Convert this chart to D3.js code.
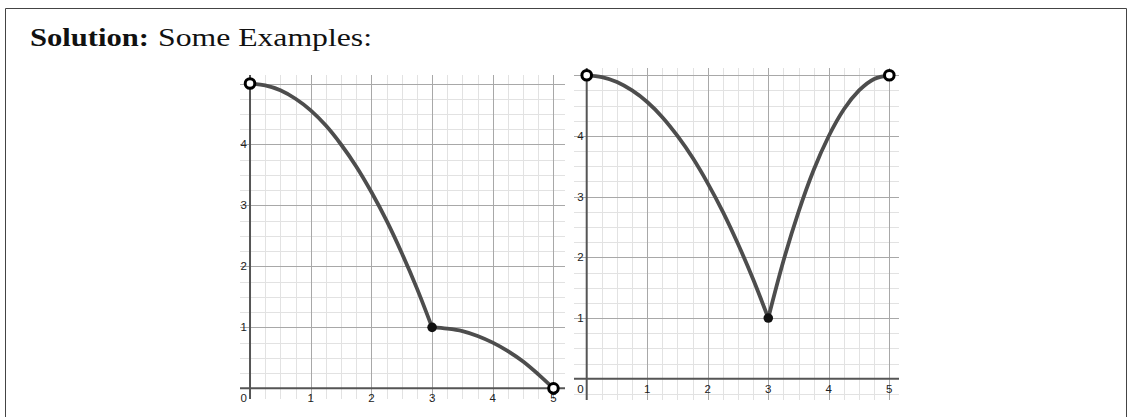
<!DOCTYPE html>
<html>
<head>
<meta charset="utf-8">
<script src="https://cdn.jsdelivr.net/npm/d3@7"></script>
<style>
  html, body { margin: 0; padding: 0; background: #fff; }
  svg { display: block; }
</style>
</head>
<body>
<svg id="page" width="1132" height="417"></svg>
<script>
// ---- data ----------------------------------------------------------
const xTicks = [1, 2, 3, 4, 5];
const yTicks = [1, 2, 3, 4];

// Example 1: falls from (0,5) to (3,1), then eases down to (5,0)
const ex1PieceA_x = [0, 0.25, 0.5, 0.75, 1, 1.25, 1.5, 1.75, 2, 2.25, 2.5, 2.75, 3];
const ex1PieceA_y = [5, 4.97, 4.89, 4.75, 4.56, 4.31, 4.0, 3.64, 3.22, 2.75, 2.22, 1.64, 1];
const ex1PieceB_x = [3, 3.25, 3.5, 3.75, 4, 4.25, 4.5, 4.75, 5];
const ex1PieceB_y = [1, 0.98, 0.94, 0.86, 0.75, 0.61, 0.44, 0.23, 0];
const ex1Open   = [[0, 5], [5, 0]];
const ex1Closed = [[3, 1]];

// Example 2: falls from (0,5) to (3,1), then rises back to (5,5)
const ex2PieceA_x = [0, 0.25, 0.5, 0.75, 1, 1.25, 1.5, 1.75, 2, 2.25, 2.5, 2.75, 3];
const ex2PieceA_y = [5, 4.97, 4.89, 4.75, 4.56, 4.31, 4.0, 3.64, 3.22, 2.75, 2.22, 1.64, 1];
const ex2PieceB_x = [3, 3.25, 3.5, 3.75, 4, 4.25, 4.5, 4.75, 5];
const ex2PieceB_y = [1, 1.94, 2.75, 3.44, 4, 4.44, 4.75, 4.94, 5];
const ex2Open   = [[0, 5], [5, 5]];
const ex2Closed = [[3, 1]];

// ---- page frame and heading ----------------------------------------
const svg = d3.select("#page");

svg.append("path")
  .attr("d", "M5.5,417 V8.5 H1126.5 V417")
  .attr("fill", "none")
  .attr("stroke", "#444")
  .attr("stroke-width", 1);

const headFont = "'Liberation Serif', 'DejaVu Serif', serif";
svg.append("text")
  .attr("x", 30).attr("y", 46)
  .attr("font-family", headFont)
  .attr("font-size", 26)
  .attr("font-weight", "bold")
  .attr("fill", "#111")
  .attr("textLength", 119)
  .attr("lengthAdjust", "spacingAndGlyphs")
  .text("Solution:");
svg.append("text")
  .attr("x", 158).attr("y", 46)
  .attr("font-family", headFont)
  .attr("font-size", 26)
  .attr("fill", "#111")
  .attr("textLength", 214)
  .attr("lengthAdjust", "spacingAndGlyphs")
  .text("Some Examples:");

// ---- one graph panel -----------------------------------------------
let clipId = 0;
function drawPanel(cfg) {
  const x = d3.scaleLinear().domain(cfg.xDomain).range([cfg.left, cfg.right]);
  const y = d3.scaleLinear().domain(cfg.yDomain).range([cfg.bottom, cfg.top]);
  const g = svg.append("g");

  const id = "clip" + (clipId++);
  g.append("clipPath").attr("id", id)
    .append("rect")
    .attr("x", cfg.left).attr("y", cfg.top)
    .attr("width", cfg.right - cfg.left).attr("height", cfg.bottom - cfg.top);

  const grid = g.append("g").attr("clip-path", `url(#${id})`);

  // minor grid every 0.25
  const minorX = d3.range(Math.ceil(cfg.xDomain[0] * 4), Math.floor(cfg.xDomain[1] * 4) + 1)
    .map(d => d / 4).filter(d => d % 1 !== 0);
  const minorY = d3.range(Math.ceil(cfg.yDomain[0] * 4), Math.floor(cfg.yDomain[1] * 4) + 1)
    .map(d => d / 4).filter(d => d % 1 !== 0);

  grid.selectAll(".mx").data(minorX).join("line")
    .attr("x1", d => Math.round(x(d)) + 0.5).attr("x2", d => Math.round(x(d)) + 0.5)
    .attr("y1", cfg.top).attr("y2", cfg.bottom)
    .attr("stroke", "#e2e2e2").attr("stroke-width", 1);
  grid.selectAll(".my").data(minorY).join("line")
    .attr("y1", d => Math.round(y(d)) + 0.5).attr("y2", d => Math.round(y(d)) + 0.5)
    .attr("x1", cfg.left).attr("x2", cfg.right)
    .attr("stroke", "#e2e2e2").attr("stroke-width", 1);

  // major grid at whole numbers
  const majorX = d3.range(Math.ceil(cfg.xDomain[0]), Math.floor(cfg.xDomain[1]) + 1).filter(d => d !== 0);
  const majorY = d3.range(Math.ceil(cfg.yDomain[0]), Math.floor(cfg.yDomain[1]) + 1).filter(d => d !== 0);
  grid.selectAll(".Mx").data(majorX).join("line")
    .attr("x1", d => Math.round(x(d)) + 0.5).attr("x2", d => Math.round(x(d)) + 0.5)
    .attr("y1", cfg.top).attr("y2", cfg.bottom)
    .attr("stroke", "#a8a8a8").attr("stroke-width", 1);
  grid.selectAll(".My").data(majorY).join("line")
    .attr("y1", d => Math.round(y(d)) + 0.5).attr("y2", d => Math.round(y(d)) + 0.5)
    .attr("x1", cfg.left).attr("x2", cfg.right)
    .attr("stroke", "#a8a8a8").attr("stroke-width", 1);

  // axes
  grid.append("line")
    .attr("x1", x(0)).attr("x2", x(0)).attr("y1", cfg.top).attr("y2", cfg.bottom)
    .attr("stroke", "#555").attr("stroke-width", 2);
  grid.append("line")
    .attr("y1", y(0)).attr("y2", y(0)).attr("x1", cfg.left).attr("x2", cfg.right)
    .attr("stroke", "#555").attr("stroke-width", 2);

  // tick labels
  const lab = g.append("g")
    .attr("font-family", "'Liberation Sans', Arial, sans-serif")
    .attr("font-size", 11.5)
    .attr("fill", "#222");
  lab.selectAll(".xl").data(xTicks).join("text")
    .attr("x", d => x(d)).attr("y", y(0) + 14)
    .attr("text-anchor", "middle")
    .text(d => d);
  lab.selectAll(".yl").data(yTicks).join("text")
    .attr("x", x(0) - 3).attr("y", d => y(d) + 4)
    .attr("text-anchor", "end")
    .text(d => d);
  lab.append("text")
    .attr("x", x(0) - 3).attr("y", y(0) + 14)
    .attr("text-anchor", "end")
    .text(0);

  // curve pieces
  const line = d3.line().x(d => x(d[0])).y(d => y(d[1])).curve(d3.curveMonotoneX);
  cfg.pieces.forEach(p => {
    g.append("path")
      .datum(d3.zip(p[0], p[1]))
      .attr("d", line)
      .attr("fill", "none")
      .attr("stroke", "#4d4d4d")
      .attr("stroke-width", 3.8)
      .attr("stroke-linecap", "round");
  });

  // endpoints
  g.selectAll(".closed").data(cfg.closed).join("circle")
    .attr("cx", d => x(d[0])).attr("cy", d => y(d[1])).attr("r", 4.8)
    .attr("fill", "#111");
  g.selectAll(".open").data(cfg.open).join("circle")
    .attr("cx", d => x(d[0])).attr("cy", d => y(d[1])).attr("r", 4.8)
    .attr("fill", "#fff").attr("stroke", "#000").attr("stroke-width", 3);
}

drawPanel({
  left: 240, right: 565, top: 75, bottom: 399,
  xDomain: [-0.165, 5.19], yDomain: [-0.175, 5.14],
  pieces: [[ex1PieceA_x, ex1PieceA_y], [ex1PieceB_x, ex1PieceB_y]],
  open: ex1Open, closed: ex1Closed
});

drawPanel({
  left: 574, right: 899, top: 68, bottom: 400,
  xDomain: [-0.21, 5.16], yDomain: [-0.35, 5.12],
  pieces: [[ex2PieceA_x, ex2PieceA_y], [ex2PieceB_x, ex2PieceB_y]],
  open: ex2Open, closed: ex2Closed
});
</script>
</body>
</html>
